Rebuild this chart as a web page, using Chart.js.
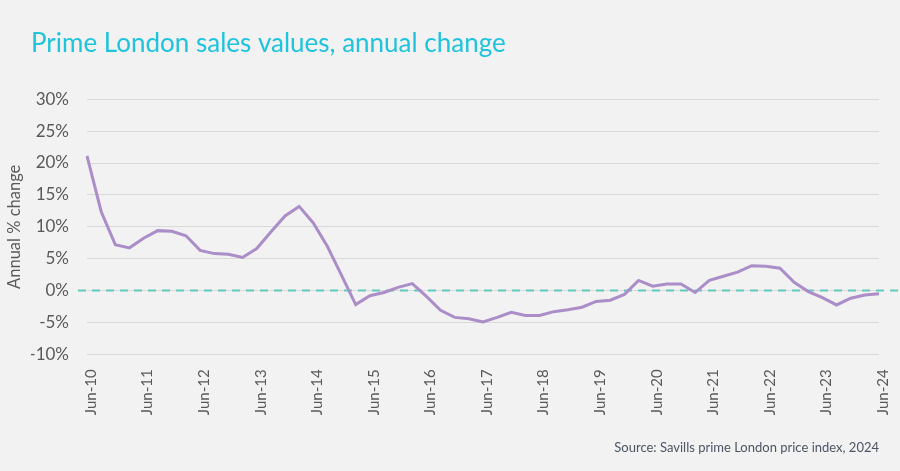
<!DOCTYPE html>
<html>
<head>
<meta charset="utf-8">
<script src="https://cdn.jsdelivr.net/npm/chart.js@4/dist/chart.umd.min.js"></script>
<style>
  html, body { margin: 0; padding: 0; background: #f2f2f2; }
  #wrap { width: 900px; height: 471px; position: relative; }
</style>
</head>
<body>
<div id="wrap"><canvas id="c" width="900" height="471"></canvas></div>
<script>
const quarters = [
  "Jun-10","Sep-10","Dec-10","Mar-11","Jun-11","Sep-11","Dec-11","Mar-12",
  "Jun-12","Sep-12","Dec-12","Mar-13","Jun-13","Sep-13","Dec-13","Mar-14",
  "Jun-14","Sep-14","Dec-14","Mar-15","Jun-15","Sep-15","Dec-15","Mar-16",
  "Jun-16","Sep-16","Dec-16","Mar-17","Jun-17","Sep-17","Dec-17","Mar-18",
  "Jun-18","Sep-18","Dec-18","Mar-19","Jun-19","Sep-19","Dec-19","Mar-20",
  "Jun-20","Sep-20","Dec-20","Mar-21","Jun-21","Sep-21","Dec-21","Mar-22",
  "Jun-22","Sep-22","Dec-22","Mar-23","Jun-23","Sep-23","Dec-23","Mar-24",
  "Jun-24"
];
const annualChange = [
  21.1, 12.4, 7.2, 6.7, 8.2, 9.4, 9.3, 8.6,
  6.3, 5.8, 5.7, 5.2, 6.6, 9.2, 11.7, 13.2,
  10.6, 6.9, 2.4, -2.2, -0.8, -0.3, 0.5, 1.1,
  -0.9, -3.1, -4.2, -4.4, -4.9, -4.2, -3.4, -3.9,
  -3.9, -3.3, -3.0, -2.6, -1.7, -1.5, -0.6, 1.6,
  0.7, 1.05, 1.05, -0.3, 1.6, 2.25, 2.9, 3.9,
  3.8, 3.5, 1.3, -0.15, -1.1, -2.25, -1.2, -0.7,
  -0.5
];
const yTicks = { min: -10, max: 30, step: 5 };
const referenceLevel = 0;

const zeroLinePlugin = {
  id: 'zeroLine',
  beforeDatasetsDraw(chart) {
    const y = chart.scales.y.getPixelForValue(referenceLevel);
    const ctx = chart.ctx;
    ctx.save();
    ctx.strokeStyle = '#63c9bb';
    ctx.lineWidth = 2;
    ctx.setLineDash([8, 6]);
    ctx.beginPath();
    ctx.moveTo(chart.chartArea.left - 9, y);
    ctx.lineTo(chart.width, y);
    ctx.stroke();
    ctx.restore();
  }
};
const bgPlugin = {
  id: 'bg',
  beforeDraw(chart) {
    const ctx = chart.ctx;
    ctx.save();
    ctx.fillStyle = '#f2f2f2';
    ctx.fillRect(0, 0, chart.width, chart.height);
    ctx.restore();
  }
};

new Chart(document.getElementById('c'), {
  type: 'line',
  data: {
    labels: quarters,
    datasets: [{
      label: 'Annual change',
      data: annualChange,
      borderColor: '#ab8dc8',
      borderWidth: 3,
      pointRadius: 0,
      tension: 0,
      fill: false
    }]
  },
  options: {
    responsive: false,
    animation: false,
    layout: { padding: { left: 31, right: 21, top: 0, bottom: 0 } },
    plugins: {
      legend: { display: false },
      tooltip: { enabled: false },
      title: {
        display: true,
        text: 'Prime London sales values, annual change',
        align: 'start',
        color: '#1ec3dc',
        font: { family: 'Lato', size: 26, weight: 'normal' },
        padding: { top: 28, bottom: 40 }
      },
      subtitle: {
        display: true,
        position: 'bottom',
        align: 'end',
        text: 'Source: Savills prime London price index, 2024',
        color: '#4b5563',
        font: { family: 'Lato', size: 13 },
        padding: { top: 10, bottom: 15 }
      }
    },
    scales: {
      x: {
        grid: { display: false, drawTicks: false },
        border: { display: false },
        afterFit(scale) { scale.height = 76; scale.paddingRight = 0; scale.paddingLeft = 0; },
        ticks: {
          autoSkip: false,
          maxRotation: 90,
          minRotation: 90,
          padding: 15,
          labelOffset: 4,
          color: '#595959',
          font: { family: 'Lato', size: 15 },
          callback(value, index) {
            return index % 4 === 0 ? quarters[index] : null;
          }
        }
      },
      y: {
        min: yTicks.min,
        max: yTicks.max,
        afterFit(scale) { scale.width = 56; },
        grid: { color: '#d9d9d9', lineWidth: 1, drawTicks: false },
        border: { display: false },
        ticks: {
          stepSize: yTicks.step,
          padding: 18,
          color: '#595959',
          font: { family: 'Lato', size: 17 },
          callback: v => v + '%'
        },
        title: {
          display: true,
          text: 'Annual % change',
          color: '#595959',
          font: { family: 'Lato', size: 16.5 },
          padding: { top: -25.9, bottom: 0 }
        }
      }
    }
  },
  plugins: [bgPlugin, zeroLinePlugin]
});
</script>
</body>
</html>
